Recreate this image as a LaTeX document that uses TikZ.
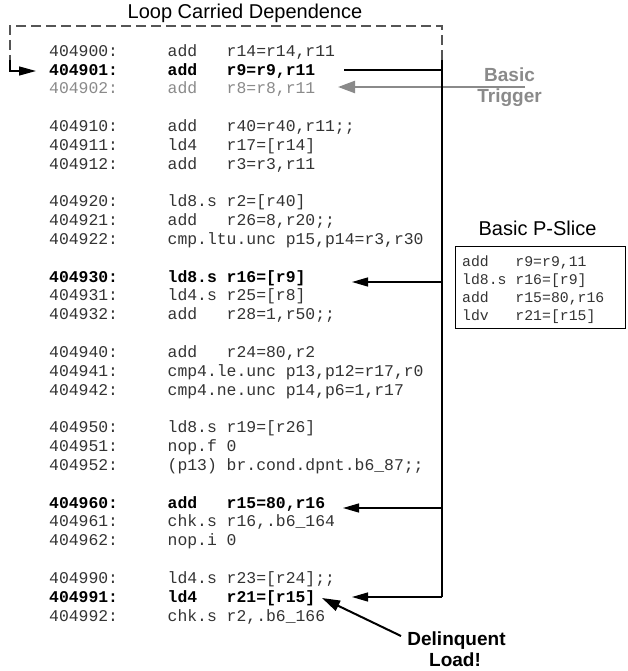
\documentclass[tikz,border=0pt]{standalone}
\usepackage{fontspec}
\setmainfont{Liberation Sans}
\setmonofont{Liberation Mono}
\usetikzlibrary{arrows.meta}
\definecolor{trig}{HTML}{8A8A8A}
\definecolor{codec}{HTML}{333333}
\definecolor{dashc}{HTML}{555555}
\newcommand\crow[4]{%
  \node[code,#2] (a#1) at (49,{56.2+18.83*#1}) {#3};
  \node[code,#2] (i#1) at (167.5,{56.2+18.83*#1}) {#4};}
\begin{document}
\begin{tikzpicture}[x=1pt,y=-1pt,
  code/.style={anchor=base west, inner sep=0pt, font=\fontsize{16.4}{18}\ttfamily, text=codec},
  plain/.style={},
  boldrow/.style={font=\fontsize{16.4}{18}\ttfamily\bfseries, text=black},
  trigrow/.style={text=trig},
  slice/.style={anchor=base west, inner sep=0pt, font=\fontsize{14.8}{17}\ttfamily, text=codec},
  title/.style={anchor=base, inner sep=0pt, font=\fontsize{20}{24}\selectfont},
  blab/.style={anchor=base, inner sep=0pt, font=\fontsize{19}{22}\selectfont\bfseries},
  wire/.style={line width=1.3pt, black},
  tip/.style={-{Triangle[length=16pt,width=9pt]}},
  loopline/.style={line width=1.2pt, dashc, dash pattern=on 10pt off 5pt}]
\useasboundingbox (0,0) rectangle (627,671);

% code listing
\crow{0}{plain}{404900:}{add~~~r14=r14,r11}
\crow{1}{boldrow}{404901:}{add~~~r9=r9,r11}
\crow{2}{trigrow}{404902:}{add~~~r8=r8,r11}
\crow{4}{plain}{404910:}{add~~~r40=r40,r11;;}
\crow{5}{plain}{404911:}{ld4~~~r17=[r14]}
\crow{6}{plain}{404912:}{add~~~r3=r3,r11}
\crow{8}{plain}{404920:}{ld8.s r2=[r40]}
\crow{9}{plain}{404921:}{add~~~r26=8,r20;;}
\crow{10}{plain}{404922:}{cmp.ltu.unc p15,p14=r3,r30}
\crow{12}{boldrow}{404930:}{ld8.s r16=[r9]}
\crow{13}{plain}{404931:}{ld4.s r25=[r8]}
\crow{14}{plain}{404932:}{add~~~r28=1,r50;;}
\crow{16}{plain}{404940:}{add~~~r24=80,r2}
\crow{17}{plain}{404941:}{cmp4.le.unc p13,p12=r17,r0}
\crow{18}{plain}{404942:}{cmp4.ne.unc p14,p6=1,r17}
\crow{20}{plain}{404950:}{ld8.s r19=[r26]}
\crow{21}{plain}{404951:}{nop.f 0}
\crow{22}{plain}{404952:}{(p13) br.cond.dpnt.b6\_87;;}
\crow{24}{boldrow}{404960:}{add~~~r15=80,r16}
\crow{25}{plain}{404961:}{chk.s r16,.b6\_164}
\crow{26}{plain}{404962:}{nop.i 0}
\crow{28}{plain}{404990:}{ld4.s r23=[r24];;}
\crow{29}{boldrow}{404991:}{ld4~~~r21=[r15]}
\crow{30}{plain}{404992:}{chk.s r2,.b6\_166}

% labels
\node[title] (ltitle) at (245,19) {Loop Carried Dependence};
\node[title] (ptitle) at (537.5,235) {Basic P-Slice};
\node[blab, text=trig] (trig1) at (509.5,81.7) {Basic};
\node[blab, text=trig] (trig2) at (509.5,103) {Trigger};
\node[blab] (del1) at (456.5,645.5) {Delinquent};
\node[blab] (del2) at (455,666.5) {Load!};

% P-slice box
\node[draw, line width=1pt, anchor=north west, inner sep=0pt,
      minimum width=170pt, minimum height=82pt] (pbox) at (455,246) {};
\node[slice] (p1) at (462,266) {add~~~r9=r9,11};
\node[slice] (p2) at (462,284) {ld8.s r16=[r9]};
\node[slice] (p3) at (462,302) {add~~~r15=80,r16};
\node[slice] (p4) at (462,320) {ldv~~~r21=[r15]};

% coordinates
\coordinate (s1) at (344,70);
\coordinate (b1) at (442,70);
\coordinate (btop) at (442,60);
\coordinate (b12) at (442,282);
\coordinate (b24) at (442,508);
\coordinate (b29) at (442,597);
\coordinate (t12) at (352,282);
\coordinate (t24) at (343,508);
\coordinate (t29) at (352,597);
\coordinate (c1) at (442,26);
\coordinate (c2) at (10,26);
\coordinate (c3) at (10,60);
\coordinate (c4) at (10,71);
\coordinate (lt) at (36,71);
\coordinate (g0) at (525,87);
\coordinate (g1) at (338,87);
\coordinate (d0) at (401,636);
\coordinate (d1) at (322,598);

% trigger arrow (under black bus)
\draw[line width=2.3pt, trig, -{Triangle[length=17pt,width=12pt]}] (g0) -- (g1);

% loop carried dependence
\draw[loopline] (btop) -- (c1) -- (c2) -- (c3);
\draw[wire, -{Triangle[length=17pt,width=9pt]}] (c3) -- (c4) -- (lt);

% bus
\draw[wire] (s1) -- (b1) -- (b29);
\draw[wire] (btop) -- (b1);
\draw[wire, tip] (b12) -- (t12);
\draw[wire, tip] (b24) -- (t24);
\draw[wire, tip] (b29) -- (t29);

% delinquent load arrow
\draw[line width=2pt, -{Triangle[length=18pt,width=11pt]}] (d0) -- (d1);
\end{tikzpicture}
\end{document}
